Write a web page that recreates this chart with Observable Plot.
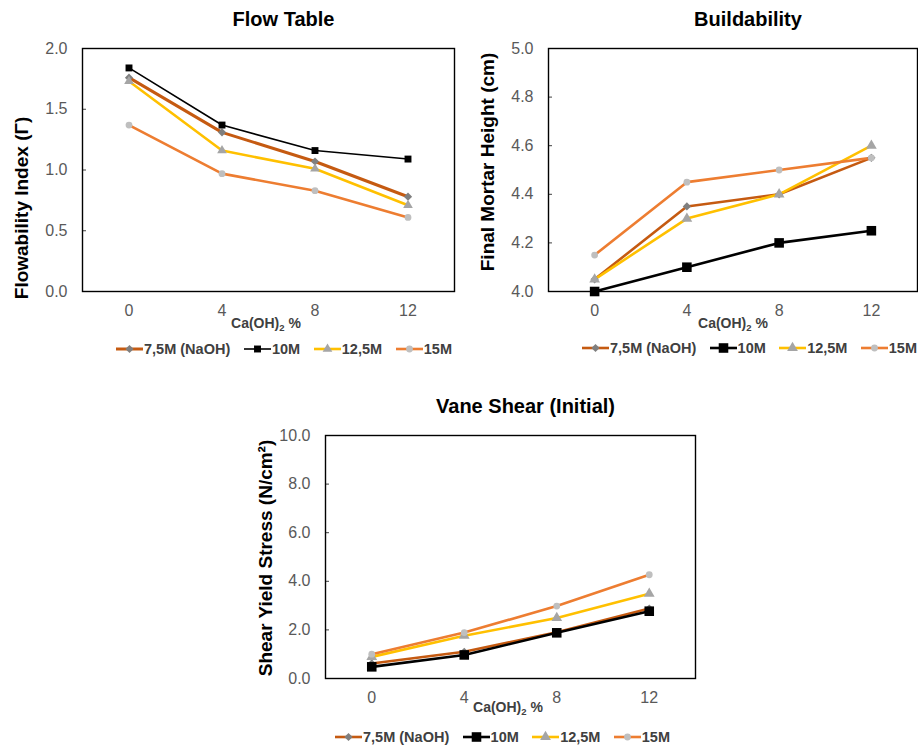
<!DOCTYPE html>
<html>
<head>
<meta charset="utf-8">
<script src="https://cdn.jsdelivr.net/npm/d3@7"></script>
<script src="https://cdn.jsdelivr.net/npm/@observablehq/plot@0.6"></script>
<style>
  html, body { margin: 0; padding: 0; background: #fff; }
  body { font-family: "Liberation Sans", Arial, sans-serif; }
  #root { position: relative; width: 918px; height: 749px; overflow: hidden; background: #fff; }
  .chart { position: absolute; }
  .xlab { position: absolute; transform: translateX(-50%); white-space: nowrap;
          font-weight: bold; font-size: 14px; line-height: 14px; color: #404040; }
  .xlab .sub { font-size: 9.5px; position: relative; top: 3px; }
  .legend { position: absolute; display: flex; justify-content: space-between; align-items: center;
            font-weight: bold; font-size: 14.5px; color: #404040; white-space: nowrap; }
  .item { display: flex; align-items: center; }
  .item svg { display: block; }
</style>
</head>
<body>
<div id="root"></div>
<script>
// ---------- data ----------
const caOH = [0, 4, 8, 12];
const seriesNames = ["7,5M (NaOH)", "10M", "12,5M", "15M"];

const flow_7_5M  = [1.76, 1.31, 1.07, 0.78];
const flow_10M   = [1.84, 1.37, 1.16, 1.09];
const flow_12_5M = [1.73, 1.16, 1.01, 0.71];
const flow_15M   = [1.37, 0.97, 0.83, 0.61];

const build_7_5M  = [4.05, 4.35, 4.40, 4.55];
const build_10M   = [4.00, 4.10, 4.20, 4.25];
const build_12_5M = [4.05, 4.30, 4.40, 4.60];
const build_15M   = [4.15, 4.45, 4.50, 4.55];

const vane_7_5M  = [0.62, 1.10, 1.90, 2.88];
const vane_10M   = [0.48, 0.97, 1.88, 2.77];
const vane_12_5M = [0.89, 1.76, 2.49, 3.49];
const vane_15M   = [1.00, 1.89, 2.98, 4.27];

const flowTicks  = [0, 0.5, 1.0, 1.5, 2.0];
const buildTicks = [4.0, 4.2, 4.4, 4.6, 4.8, 5.0];
const vaneTicks  = [0, 2, 4, 6, 8, 10];

// ---------- styles ----------
const lineColors  = ["#C55A11", "#000000", "#FFC000", "#ED7D31"];
const markerFills = ["#7F7F7F", "#000000", "#A5A5A5", "#BFBFBF"];
const symbols     = ["diamond2", "square", "triangle", "circle"];
const d3Symbols   = [d3.symbolDiamond2, d3.symbolSquare, d3.symbolTriangle, d3.symbolCircle];

const charts = [
  { title: "Flow Table", ylabel: "Flowability Index (Γ)",
    values: [flow_7_5M, flow_10M, flow_12_5M, flow_15M],
    yDomain: [0, 2], yTicks: flowTicks,
    left: 0, top: 0, width: 470, height: 330,
    fx0: 82, fx1: 454, fy0: 48, fy1: 291,
    ylabDx: -61, ylabDy: 38,
    widths: [3, 1.6, 2.6, 2.6], radii: [3.7, 3.9, 3.6, 3.4],
    xlab: [266, 316], legend: [116, 341, 336] },
  { title: "Buildability", ylabel: "Final Mortar Height (cm)",
    values: [build_7_5M, build_10M, build_12_5M, build_15M],
    yDomain: [4, 5], yTicks: buildTicks,
    left: 460, top: 0, width: 458, height: 330,
    fx0: 548, fx1: 917, fy0: 48, fy1: 291,
    ylabDx: -61, ylabDy: -8,
    widths: [2.6, 2.6, 2.6, 2.6], radii: [3.7, 5.4, 4.0, 3.4],
    xlab: [733, 316], legend: [582, 340, 335] },
  { title: "Vane Shear (Initial)", ylabel: "Shear Yield Stress (N/cm²)",
    values: [vane_7_5M, vane_10M, vane_12_5M, vane_15M],
    yDomain: [0, 10], yTicks: vaneTicks,
    left: 240, top: 380, width: 470, height: 330,
    fx0: 325, fx1: 695, fy0: 435, fy1: 678,
    ylabDx: -60, ylabDy: 1,
    widths: [2.6, 2.6, 2.6, 2.6], radii: [3.7, 5.4, 4.0, 3.4],
    xlab: [508, 700], legend: [335, 729, 335] }
];

const root = document.getElementById("root");

charts.forEach(c => {
  const rows = [];
  c.values.forEach((arr, s) => arr.forEach((v, i) => rows.push({x: caOH[i], y: v, s})));
  const fw = c.fx1 - c.fx0;
  const marks = [];
  // inward y ticks
  marks.push(Plot.ruleY(c.yTicks, {y: d => d, stroke: "#404040", strokeWidth: 1, insetRight: fw - 4}));
  marks.push(Plot.axisY({ticks: c.yTicks, tickSize: 0, tickPadding: 15, label: null,
    tickFormat: d3.format(".1f"), fontSize: 16, fill: "#595959"}));
  marks.push(Plot.axisX({ticks: caOH, tickSize: 0, tickPadding: 13, label: null,
    tickFormat: d => String(d), fontSize: 16, fill: "#595959"}));
  // lines
  c.values.forEach((arr, s) => {
    marks.push(Plot.line(rows.filter(r => r.s === s), {x: "x", y: "y",
      stroke: lineColors[s], strokeWidth: c.widths[s], strokeLinejoin: "round", strokeLinecap: "butt"}));
  });
  // markers
  c.values.forEach((arr, s) => {
    marks.push(Plot.dot(rows.filter(r => r.s === s), {x: "x", y: "y",
      symbol: symbols[s], r: c.radii[s], fill: markerFills[s], stroke: "none"}));
  });
  marks.push(Plot.frame({stroke: "#000", strokeWidth: 1.4}));
  // title
  marks.push(Plot.text([c.title], {text: d => d, frameAnchor: "top", textAnchor: "middle", lineAnchor: "middle",
    dx: 15, dy: -28.5, fontSize: 20, fontWeight: "bold", fill: "#000"}));
  // y label
  marks.push(Plot.text([c.ylabel], {text: d => d, frameAnchor: "left", textAnchor: "middle", lineAnchor: "middle",
    rotate: -90, dx: c.ylabDx, dy: c.ylabDy, fontSize: 19, fontWeight: "bold", fill: "#000"}));

  const plot = Plot.plot({
    width: c.width, height: c.height,
    marginLeft: c.fx0 - c.left, marginRight: c.left + c.width - c.fx1,
    marginTop: c.fy0 - c.top, marginBottom: c.top + c.height - c.fy1,
    x: {type: "linear", domain: [-2, 14]},
    y: {type: "linear", domain: c.yDomain},
    style: {fontFamily: "'Liberation Sans', Arial, sans-serif", fontSize: "16px", background: "transparent", overflow: "visible"},
    marks
  });
  const wrap = document.createElement("div");
  wrap.className = "chart";
  wrap.style.left = c.left + "px";
  wrap.style.top = c.top + "px";
  wrap.appendChild(plot);
  root.appendChild(wrap);

  // x label
  const xl = document.createElement("div");
  xl.className = "xlab";
  xl.style.left = c.xlab[0] + "px";
  xl.style.top = c.xlab[1] + "px";
  xl.innerHTML = 'Ca(OH)<span class="sub">2</span> %';
  root.appendChild(xl);

  // legend
  const lg = document.createElement("div");
  lg.className = "legend";
  lg.style.left = c.legend[0] + "px";
  lg.style.top = c.legend[1] + "px";
  lg.style.width = c.legend[2] + "px";
  lg.style.height = "16px";
  seriesNames.forEach((name, s) => {
    const it = document.createElement("div");
    it.className = "item";
    const sw = d3.create("svg").attr("width", 27).attr("height", 14);
    sw.append("line").attr("x1", 0).attr("x2", 27).attr("y1", 7).attr("y2", 7)
      .attr("stroke", lineColors[s]).attr("stroke-width", c.widths[s]);
    sw.append("path").attr("transform", "translate(13.5,7)")
      .attr("d", d3.symbol(d3Symbols[s], Math.PI * c.radii[s] * c.radii[s])())
      .attr("fill", markerFills[s]);
    it.appendChild(sw.node());
    const t = document.createElement("span");
    t.textContent = name;
    t.style.marginLeft = "1px";
    it.appendChild(t);
    lg.appendChild(it);
  });
  root.appendChild(lg);
});
</script>
</body>
</html>
